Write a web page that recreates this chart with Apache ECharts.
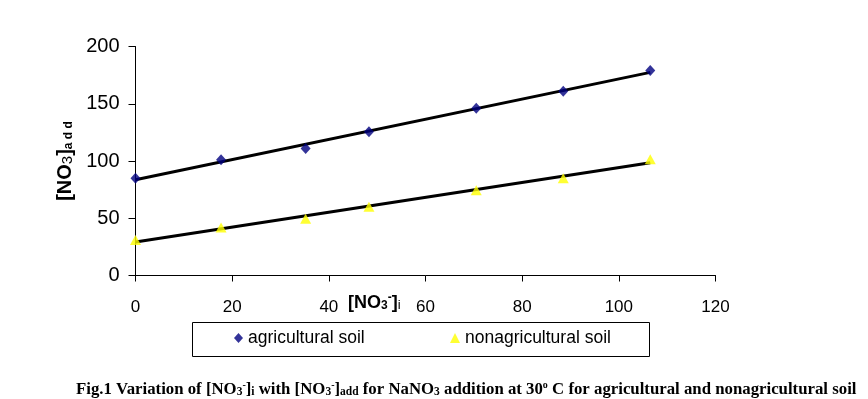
<!DOCTYPE html>
<html>
<head>
<meta charset="utf-8">
<script src="https://cdn.jsdelivr.net/npm/echarts@6/dist/echarts.min.js"></script>
<style>
  html, body { margin: 0; padding: 0; background: #fff; }
  #main { width: 868px; height: 399px; }
</style>
</head>
<body>
<div id="main"></div>
<script>
var chartDom = document.getElementById('main');
var myChart = echarts.init(chartDom);

// values
const xValues = [0, 17.7, 35.2, 48.3, 70.5, 88.5, 106.5];
const agriculturalValues = [85, 101, 111, 125.5, 146, 161, 179];
const nonagriculturalValues = [31, 42, 49.5, 60, 74.5, 85, 101.5];
// trend line ends, as drawn in the picture
const agriculturalTrend = [[0, 83.6], [106.5, 177.4]];
const nonagriculturalTrend = [[0, 29.3], [106.5, 98.5]];
const xTicks = [0, 20, 40, 60, 80, 100, 120];
const yTicks = [0, 50, 100, 150, 200];

const agriculturalData = xValues.map((x, i) => [x, agriculturalValues[i]]);
const nonagriculturalData = xValues.map((x, i) => [x, nonagriculturalValues[i]]);

const sans = 'Liberation Sans, Arial, sans-serif';
const serif = 'Liberation Serif, Times New Roman, serif';

var option = {
    animation: false,
    backgroundColor: '#fff',
    grid: {
        left: 135.5,
        right: 152.5,
        top: 46.5,
        bottom: 123.5
    },
    legend: [
        {
            left: 234,
            top: 329,
            padding: 0,
            itemWidth: 9,
            itemHeight: 10,
            data: [{ name: 'agricultural soil', icon: 'diamond' }],
            textStyle: { fontFamily: sans, fontSize: 17.5, color: '#000' }
        },
        {
            left: 450,
            top: 329,
            padding: 0,
            itemWidth: 10,
            itemHeight: 10,
            data: [{ name: 'nonagricultural soil', icon: 'triangle' }],
            textStyle: { fontFamily: sans, fontSize: 17.5, color: '#000' }
        }
    ],
    xAxis: {
        type: 'value',
        min: xTicks[0],
        max: xTicks[xTicks.length - 1],
        interval: 20,
        splitLine: { show: false },
        axisLine: { lineStyle: { color: '#000', width: 1 } },
        axisTick: { length: 6, lineStyle: { color: '#000' } },
        axisLabel: { margin: 23, fontFamily: sans, fontSize: 17, color: '#000' }
    },
    yAxis: {
        type: 'value',
        min: yTicks[0],
        max: yTicks[yTicks.length - 1],
        interval: 50,
        splitLine: { show: false },
        axisLine: { show: true, lineStyle: { color: '#000', width: 1 } },
        axisTick: { show: true, length: 7, lineStyle: { color: '#000' } },
        axisLabel: { margin: 16, fontFamily: sans, fontSize: 20, color: '#000' }
    },
    graphic: [
        {
            type: 'rect',
            shape: { x: 192.5, y: 322.5, width: 457, height: 34 },
            style: { fill: 'none', stroke: '#000', lineWidth: 1 }
        },
        {
            type: 'text',
            x: 64,
            y: 161,
            rotation: Math.PI / 2,
            style: {
                text: '{b|[NO}{s|3}{b|]}{d|a d d}',
                align: 'center',
                verticalAlign: 'middle',
                rich: {
                    b: { fontFamily: sans, fontWeight: 'bold', fontSize: 20, lineHeight: 22, verticalAlign: 'bottom', fill: '#000' },
                    s: { fontFamily: sans, fontSize: 15, lineHeight: 20, verticalAlign: 'bottom', fill: '#000' },
                    d: { fontFamily: sans, fontWeight: 'bold', fontSize: 12, lineHeight: 12, verticalAlign: 'bottom', fill: '#000' }
                }
            }
        },
        {
            type: 'text',
            x: 348,
            y: 302,
            style: {
                text: '{b|[NO}{s|3}{p|-}{b|]}{i|i}',
                align: 'left',
                verticalAlign: 'middle',
                rich: {
                    b: { fontFamily: sans, fontWeight: 'bold', fontSize: 18, lineHeight: 20, verticalAlign: 'bottom', fill: '#000' },
                    s: { fontFamily: sans, fontWeight: 'bold', fontSize: 12, lineHeight: 12, verticalAlign: 'bottom', fill: '#000' },
                    p: { fontFamily: sans, fontWeight: 'bold', fontSize: 12, lineHeight: 12, verticalAlign: 'top', fill: '#000' },
                    i: { fontFamily: sans, fontSize: 13, lineHeight: 10, verticalAlign: 'bottom', fill: '#000' }
                }
            }
        },
        {
            type: 'text',
            x: 76,
            y: 389,
            style: {
                text: '{t|Fig.1 Variation of [NO}{s|3}{p|-}{t|]}{s|i}{t| with [NO}{s|3}{p|-}{t|]}{s|add}{t| for NaNO}{s|3}{t| addition at 30}{p|o}{t| C for agricultural and nonagricultural soil}',
                align: 'left',
                verticalAlign: 'middle',
                rich: {
                    t: { fontFamily: serif, fontWeight: 'bold', fontSize: 16.8, lineHeight: 18, verticalAlign: 'bottom', fill: '#000' },
                    s: { fontFamily: serif, fontWeight: 'bold', fontSize: 11.5, lineHeight: 13, verticalAlign: 'bottom', fill: '#000' },
                    p: { fontFamily: serif, fontWeight: 'bold', fontSize: 10, lineHeight: 10, verticalAlign: 'top', fill: '#000' }
                }
            }
        }
    ],
    series: [
        {
            name: 'agricultural trend',
            type: 'line',
            data: agriculturalTrend,
            showSymbol: false,
            lineStyle: { color: '#000', width: 3 },
            z: 2
        },
        {
            name: 'nonagricultural trend',
            type: 'line',
            data: nonagriculturalTrend,
            showSymbol: false,
            lineStyle: { color: '#000', width: 3 },
            z: 2
        },
        {
            name: 'agricultural soil',
            type: 'scatter',
            symbol: 'diamond',
            symbolSize: [10, 11],
            itemStyle: { color: '#000080' },
            data: agriculturalData,
            z: 3
        },
        {
            name: 'nonagricultural soil',
            type: 'scatter',
            symbol: 'triangle',
            symbolSize: [11, 10],
            itemStyle: { color: '#FFFF00' },
            data: nonagriculturalData,
            z: 3
        }
    ]
};

myChart.setOption(option);
</script>
</body>
</html>
